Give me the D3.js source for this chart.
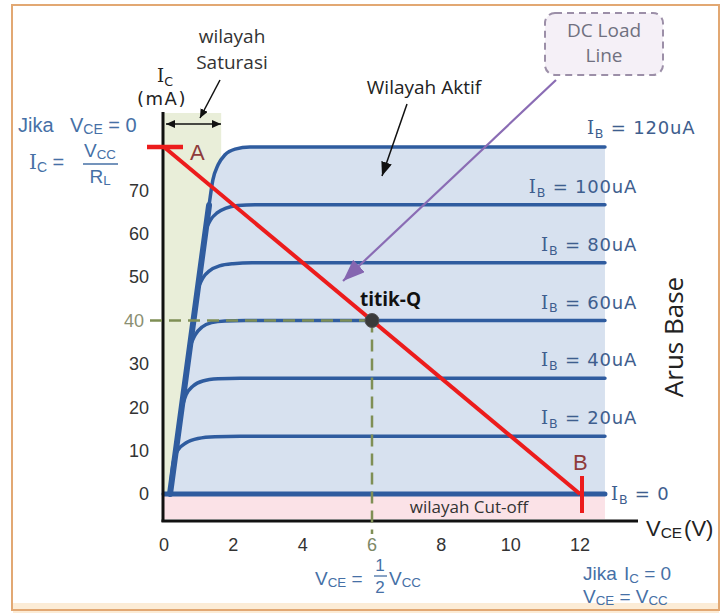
<!DOCTYPE html>
<html><head><meta charset="utf-8">
<script src="https://cdn.jsdelivr.net/npm/d3@7"></script>
<style>html,body{margin:0;padding:0;background:#fff;} svg{display:block;}</style>
</head><body><svg id="chart" width="720" height="613"></svg>
<script>
// Transistor output characteristics (IC vs VCE) with the DC load line and Q point

const vceTicks = [0, 2, 4, 6, 8, 10, 12];
const icTicks = [0, 10, 20, 30, 40, 50, 60, 70];
const baseCurrentLabels = ["0", "20uA", "40uA", "60uA", "80uA", "100uA", "120uA"];

// Characteristic curves, [VCE (V), IC (mA)]
const curveIb0   = [[0, 0], [12.72, 0]];
const curveIb20  = [[0.2, 2.8], [0.27, 7.4], [0.40, 10.1], [0.64, 11.8], [0.98, 12.8], [1.47, 13.2], [2.2, 13.3], [12.72, 13.3]];
const curveIb40  = [[0.51, 19.8], [0.64, 22.9], [0.84, 24.9], [1.12, 26.05], [1.56, 26.55], [2.2, 26.7], [12.72, 26.7]];
const curveIb60  = [[0.75, 34.1], [0.9, 36.7], [1.1, 38.5], [1.37, 39.5], [1.76, 39.9], [2.34, 40], [12.72, 40]];
const curveIb80  = [[0.97, 47.3], [1.12, 49.8], [1.32, 51.5], [1.6, 52.6], [1.99, 53.1], [2.54, 53.3], [12.72, 53.3]];
const curveIb100 = [[1.21, 61.1], [1.35, 63.3], [1.53, 64.8], [1.79, 65.9], [2.13, 66.5], [2.63, 66.7], [12.72, 66.7]];
const curveIb120 = [[0.173, 0], [0.75, 34.1], [1.30, 66.6], [1.41, 72.4], [1.56, 75.9], [1.76, 78.2], [2.05, 79.5], [2.48, 80], [12.72, 80]];
const saturationEdge = [[0.173, 0], [1.30, 66.6]];
const curves = [curveIb0, curveIb20, curveIb40, curveIb60, curveIb80, curveIb100, curveIb120];

const saturationLimit = 1.65;   // VCE upper edge of the saturation band
const loadLine = [[0, 80], [12, 0]];
const qPoint = [6, 40];

const svg = d3.select("#chart");
const x = d3.scaleLinear().domain([0, 12]).range([164, 580]);
const y = d3.scaleLinear().domain([0, 80]).range([494, 147]);

const BLUE_TXT = "#4670a6";
const CURVE = "#2f5c9f";
const OLIVE = "#7f8f55";

// frame
svg.append("rect").attr("x", 0).attr("y", 0).attr("width", 720).attr("height", 613).attr("fill", "#fff");
svg.append("rect").attr("x", 13).attr("y", 603).attr("width", 706).attr("height", 10).attr("fill", "#fcecd6");
svg.append("rect").attr("x", 12).attr("y", 5).attr("width", 707).attr("height", 605)
  .attr("fill", "none").attr("stroke", "#e2a873").attr("stroke-width", 2);

const defs = svg.append("defs");
function marker(id, color, w, h) {
  defs.append("marker").attr("id", id).attr("viewBox", `0 0 ${w} ${h}`)
    .attr("refX", w).attr("refY", h / 2).attr("markerWidth", w).attr("markerHeight", h)
    .attr("markerUnits", "userSpaceOnUse").attr("orient", "auto-start-reverse")
    .append("path").attr("d", `M0,0L${w},${h / 2}L0,${h}Z`).attr("fill", color);
}
marker("arrBlack", "#111", 14, 11);
marker("arrSmall", "#111", 9, 8);
marker("arrPurple", "#8566b0", 22, 17);

// regions
svg.append("rect").attr("x", x(0)).attr("y", 113)
  .attr("width", x(saturationLimit) - x(0)).attr("height", y(0) - 113).attr("fill", "#e9eed9");
svg.append("path").datum(curveIb120)
  .attr("d", d3.area().x(d => x(d[0])).y0(y(0)).y1(d => y(d[1])).curve(d3.curveMonotoneX))
  .attr("fill", "#d7e1ef");
svg.append("rect").attr("x", x(0)).attr("y", y(0))
  .attr("width", x(12.72) - x(0)).attr("height", 25).attr("fill", "#fbe2e7");

// curves
const line = d3.line().x(d => x(d[0])).y(d => y(d[1])).curve(d3.curveMonotoneX);
svg.selectAll("path.curve").data(curves).join("path").attr("class", "curve")
  .attr("d", line).attr("fill", "none").attr("stroke", CURVE)
  .attr("stroke-width", (d, i) => i === 0 ? 5 : 3.5).attr("stroke-linecap", "round");
svg.append("path").datum(saturationEdge).attr("d", d3.line().x(d => x(d[0])).y(d => y(d[1])))
  .attr("fill", "none").attr("stroke", CURVE).attr("stroke-width", 6).attr("stroke-linecap", "round");

// axes
svg.append("line").attr("x1", x(0) - 1).attr("x2", x(0) - 1).attr("y1", 112).attr("y2", 522)
  .attr("stroke", "#111").attr("stroke-width", 3);
svg.append("line").attr("x1", x(0) - 2.5).attr("x2", 638).attr("y1", 521).attr("y2", 521)
  .attr("stroke", "#111").attr("stroke-width", 3);

// Q point guides
svg.append("line").attr("x1", 150).attr("x2", x(qPoint[0])).attr("y1", y(qPoint[1])).attr("y2", y(qPoint[1]))
  .attr("stroke", OLIVE).attr("stroke-width", 2.5).attr("stroke-dasharray", "12,7");
svg.append("line").attr("x1", x(qPoint[0])).attr("x2", x(qPoint[0])).attr("y1", y(qPoint[1])).attr("y2", 534)
  .attr("stroke", OLIVE).attr("stroke-width", 2.5).attr("stroke-dasharray", "12,7");

// load line with end markers
svg.append("line").attr("x1", x(loadLine[0][0])).attr("y1", y(loadLine[0][1]))
  .attr("x2", x(loadLine[1][0])).attr("y2", y(loadLine[1][1]))
  .attr("stroke", "#ec1c1c").attr("stroke-width", 4);
svg.append("line").attr("x1", x(0) - 17).attr("x2", x(0) + 19).attr("y1", y(loadLine[0][1])).attr("y2", y(loadLine[0][1]))
  .attr("stroke", "#ec1c1c").attr("stroke-width", 4.5);
svg.append("line").attr("x1", x(loadLine[1][0]) + 2).attr("x2", x(loadLine[1][0]) + 2).attr("y1", y(0) - 18).attr("y2", y(0) + 19)
  .attr("stroke", "#ec1c1c").attr("stroke-width", 4);

svg.append("circle").attr("cx", x(qPoint[0])).attr("cy", y(qPoint[1])).attr("r", 7)
  .attr("fill", "#3b3b3b").attr("stroke", "#555").attr("stroke-width", 1);

// tick labels
svg.selectAll("text.xt").data(vceTicks).join("text").attr("class", "xt")
  .attr("x", d => x(d)).attr("y", 545).attr("dy", "0.35em").attr("text-anchor", "middle")
  .attr("font-family", "Liberation Sans, Arial, sans-serif").attr("font-size", 18)
  .attr("fill", d => d === qPoint[0] ? "#7d8866" : "#333").text(d => d);
svg.selectAll("text.yt").data(icTicks).join("text").attr("class", "yt")
  .attr("x", d => d === qPoint[1] ? 144 : 149).attr("y", d => y(d)).attr("dy", "0.35em").attr("text-anchor", "end")
  .attr("font-family", "Liberation Sans, Arial, sans-serif").attr("font-size", 18)
  .attr("fill", d => d === qPoint[1] ? "#8a8f72" : "#333").text(d => d);

// rich text helper: parts [{t, sub, serif, dx}]
function rich(x0, y0, parts, size, color, family, anchor, subDrop, spacing) {
  const t = svg.append("text").attr("x", x0).attr("y", y0).attr("font-size", size)
    .attr("fill", color).attr("font-family", family).attr("text-anchor", anchor || "start");
  if (spacing) t.attr("letter-spacing", spacing);
  const drop = subDrop === undefined ? 0.22 : subDrop;
  let shift = 0;
  parts.forEach(p => {
    const s = t.append("tspan").text(p.t);
    const target = p.sub ? size * drop : 0;
    if (target !== shift) { s.attr("dy", target - shift); shift = target; }
    if (p.dx) s.attr("dx", p.dx);
    if (p.sub) s.attr("font-size", size * 0.7);
    if (p.serif) s.attr("font-family", "DejaVu Serif, serif");
  });
  return t;
}

const SANS = "Open Sans, sans-serif";
const ARIAL = "Liberation Sans, Arial, sans-serif";
const DV = "DejaVu Sans, sans-serif";

// base-current labels
curves.forEach((c, i) => {
  const lv = c[c.length - 1][1];
  const parts = [{ t: "I", serif: true }, { t: "B", sub: true }, { t: " = " + baseCurrentLabels[i] }];
  if (i === 0) rich(x(12.72) + 6, y(lv) + 6, parts, 18, "#3e5e8e", DV, "start", 0.22, 0.8);
  else if (i === curves.length - 1) rich(x(12.2), y(lv) - 13, parts, 18, "#3e5e8e", DV, "start", 0.22, 0.8);
  else rich(x(13.65), y(lv) - 12, parts, 18, "#3e5e8e", DV, "end", 0.22, 0.8);
});

// axis titles
rich(157, 82, [{ t: "I", serif: true }, { t: "C", sub: true }], 18, "#222", DV);
svg.append("text").attr("x", 162).attr("y", 105).attr("text-anchor", "middle")
  .attr("font-family", DV).attr("font-size", 18).attr("letter-spacing", 1.5).attr("fill", "#222").text("(mA)");
rich(646, 536, [{ t: "V" }, { t: "CE", sub: true }, { t: "(V)", dx: 2 }], 22, "#222", ARIAL, "start", 0.1);
svg.append("text").attr("transform", "translate(683,337) rotate(-90)").attr("text-anchor", "middle")
  .attr("font-family", SANS).attr("font-size", 26).attr("fill", "#222").text("Arus Base");

// annotations
svg.append("text").attr("x", 232).attr("y", 43).attr("text-anchor", "middle")
  .attr("font-family", SANS).attr("font-size", 19).attr("fill", "#333").text("wilayah");
svg.append("text").attr("x", 232).attr("y", 69).attr("text-anchor", "middle")
  .attr("font-family", SANS).attr("font-size", 19).attr("fill", "#333").text("Saturasi");
svg.append("line").attr("x1", 220).attr("y1", 80).attr("x2", 200).attr("y2", 118)
  .attr("stroke", "#111").attr("stroke-width", 1.5).attr("marker-end", "url(#arrSmall)");
svg.append("line").attr("x1", 166).attr("y1", 124).attr("x2", 221).attr("y2", 124)
  .attr("stroke", "#111").attr("stroke-width", 1.5)
  .attr("marker-start", "url(#arrSmall)").attr("marker-end", "url(#arrSmall)");

svg.append("text").attr("x", 424).attr("y", 94).attr("text-anchor", "middle")
  .attr("font-family", SANS).attr("font-size", 19).attr("fill", "#222").text("Wilayah Aktif");
svg.append("line").attr("x1", 407).attr("y1", 104).attr("x2", 382).attr("y2", 176)
  .attr("stroke", "#111").attr("stroke-width", 1.5).attr("marker-end", "url(#arrBlack)");

svg.append("rect").attr("x", 545).attr("y", 13).attr("width", 118).attr("height", 62).attr("rx", 10)
  .attr("fill", "#f5f0f7").attr("stroke", "#9c8fa8").attr("stroke-width", 2).attr("stroke-dasharray", "7,5");
svg.append("text").attr("x", 604).attr("y", 37).attr("text-anchor", "middle")
  .attr("font-family", SANS).attr("font-size", 19).attr("fill", "#707080").text("DC Load");
svg.append("text").attr("x", 604).attr("y", 62).attr("text-anchor", "middle")
  .attr("font-family", SANS).attr("font-size", 19).attr("fill", "#707080").text("Line");
svg.append("line").attr("x1", 556).attr("y1", 80).attr("x2", 343).attr("y2", 281)
  .attr("stroke", "#8a6cb4").attr("stroke-width", 2.2).attr("marker-end", "url(#arrPurple)");

svg.append("text").attr("x", 360).attr("y", 306).attr("font-family", SANS).attr("font-weight", 700)
  .attr("font-size", 19).attr("fill", "#111").text("titik-Q");

svg.append("text").attr("x", 190).attr("y", 160).attr("font-family", ARIAL).attr("font-size", 22)
  .attr("fill", "#8e3b3b").text("A");
svg.append("text").attr("x", 573).attr("y", 470).attr("font-family", ARIAL).attr("font-size", 22)
  .attr("fill", "#8e3b3b").text("B");

svg.append("text").attr("x", 469).attr("y", 513).attr("text-anchor", "middle")
  .attr("font-family", SANS).attr("font-size", 17).attr("fill", "#333").text("wilayah Cut-off");

// formulas
svg.append("text").attr("x", 18).attr("y", 132).attr("font-family", ARIAL).attr("font-size", 20)
  .attr("fill", BLUE_TXT).text("Jika");
rich(70, 132, [{ t: "V" }, { t: "CE", sub: true }, { t: " = 0" }], 20, BLUE_TXT, ARIAL, "start", 0.12);
rich(29, 169, [{ t: "I", serif: true }, { t: "C", sub: true }, { t: " =" }], 20, BLUE_TXT, ARIAL, "start", 0.15);
rich(100, 157, [{ t: "V" }, { t: "CC", sub: true }], 19, BLUE_TXT, ARIAL, "middle", 0.1);
svg.append("line").attr("x1", 83).attr("x2", 118).attr("y1", 164).attr("y2", 164).attr("stroke", BLUE_TXT).attr("stroke-width", 1.5);
rich(100, 183, [{ t: "R" }, { t: "L", sub: true }], 19, BLUE_TXT, ARIAL, "middle", 0.1);

rich(315, 585, [{ t: "V" }, { t: "CE", sub: true }, { t: " =" }], 19, BLUE_TXT, ARIAL, "start", 0.1);
svg.append("text").attr("x", 380).attr("y", 571).attr("text-anchor", "middle").attr("font-family", ARIAL)
  .attr("font-size", 17).attr("fill", BLUE_TXT).text("1");
svg.append("line").attr("x1", 374).attr("x2", 387).attr("y1", 576).attr("y2", 576).attr("stroke", BLUE_TXT).attr("stroke-width", 1.3);
svg.append("text").attr("x", 380).attr("y", 593).attr("text-anchor", "middle").attr("font-family", ARIAL)
  .attr("font-size", 17).attr("fill", BLUE_TXT).text("2");
rich(389, 585, [{ t: "V" }, { t: "CC", sub: true }], 19, BLUE_TXT, ARIAL, "start", 0.1);

svg.append("text").attr("x", 583).attr("y", 580).attr("font-family", ARIAL).attr("font-size", 19)
  .attr("fill", BLUE_TXT).text("Jika");
rich(624, 580, [{ t: "I" }, { t: "C", sub: true }, { t: " = 0" }], 19, BLUE_TXT, ARIAL, "start", 0.15);
rich(583, 603, [{ t: "V" }, { t: "CE", sub: true }, { t: " = V" }, { t: "CC", sub: true }], 19, BLUE_TXT, ARIAL, "start", 0.1);
</script></body></html>
